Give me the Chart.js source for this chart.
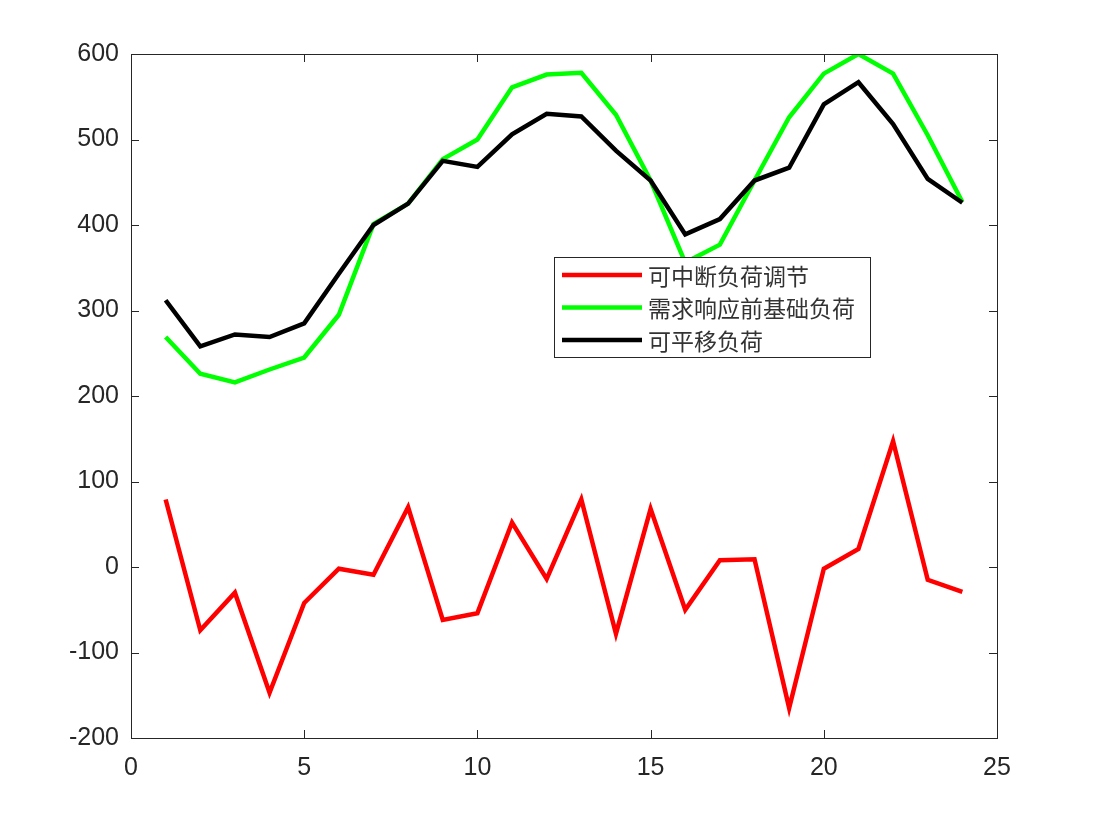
<!DOCTYPE html>
<html>
<head>
<meta charset="utf-8">
<script src="https://cdn.jsdelivr.net/npm/chart.js@4.4.1/dist/chart.umd.min.js"></script>
<style>
  html, body { margin: 0; padding: 0; background: #fff; }
  #wrap { width: 1104px; height: 828px; }
</style>
</head>
<body>
<div id="wrap"><canvas id="chartLoad"></canvas></div>
<script>
const hours = [1, 2, 3, 4, 5, 6, 7, 8, 9, 10, 11, 12, 13, 14, 15, 16, 17, 18, 19, 20, 21, 22, 23, 24];

const interruptible = [79, -74, -30, -147, -42, -2, -9, 70, -62, -54, 52, -14, 79, -78, 68, -50, 8, 9, -165, -2, 21, 147, -15, -29];
const baseLoad = [269, 226, 216, 231, 245, 295, 401, 425, 477, 500, 561, 576, 578, 529, 452, 356, 377, 452, 526, 577, 600, 577, 505, 427];
const shiftable = [312, 258, 272, 269, 285, 343, 400, 425, 475, 468, 506, 530, 527, 487, 452, 389, 407, 452, 467, 541, 567, 518, 454, 426];

const seriesLabels = ['可中断负荷调节', '需求响应前基础负荷', '可平移负荷'];
const seriesColors = ['#ff0000', '#00ff00', '#000000'];

const xTicks = [0, 5, 10, 15, 20, 25];
const yTicks = [-200, -100, 0, 100, 200, 300, 400, 500, 600];

const AXIS_COLOR = '#262626';
const TICK_LEN = 8;

function toPoints(values) {
  return values.map((v, i) => ({ x: hours[i], y: v }));
}

// box round the axes, with inward ticks on all four sides (MATLAB style)
const boxPlugin = {
  id: 'boxPlugin',
  afterDatasetsDraw(chart) {
    const { ctx, chartArea: a, scales } = chart;
    ctx.save();
    ctx.strokeStyle = AXIS_COLOR;
    ctx.lineWidth = 1;
    ctx.strokeRect(a.left + 0.5, a.top + 0.5, a.right - a.left, a.bottom - a.top);
    ctx.beginPath();
    xTicks.forEach((t) => {
      const px = Math.round(scales.x.getPixelForValue(t)) + 0.5;
      ctx.moveTo(px, a.bottom); ctx.lineTo(px, a.bottom - TICK_LEN);
      ctx.moveTo(px, a.top); ctx.lineTo(px, a.top + TICK_LEN);
    });
    yTicks.forEach((t) => {
      const py = Math.round(scales.y.getPixelForValue(t)) + 0.5;
      ctx.moveTo(a.left, py); ctx.lineTo(a.left + TICK_LEN, py);
      ctx.moveTo(a.right, py); ctx.lineTo(a.right - TICK_LEN, py);
    });
    ctx.stroke();
    ctx.restore();
  },
};

// legend box inside the plot, drawn from the dataset labels and colours
const innerLegend = {
  id: 'innerLegend',
  afterDraw(chart) {
    const { ctx } = chart;
    const x0 = 554, y0 = 257, w = 316, h = 100;
    ctx.save();
    ctx.fillStyle = '#fff';
    ctx.fillRect(x0, y0, w, h);
    ctx.strokeStyle = AXIS_COLOR;
    ctx.lineWidth = 1;
    ctx.strokeRect(x0 + 0.5, y0 + 0.5, w, h);
    ctx.font = '23px "Noto Sans CJK SC", sans-serif';
    ctx.textBaseline = 'middle';
    seriesLabels.forEach((label, i) => {
      const y = y0 + 18 + i * 32.5;
      ctx.strokeStyle = seriesColors[i];
      ctx.lineWidth = 4.5;
      ctx.beginPath();
      ctx.moveTo(x0 + 8, y);
      ctx.lineTo(x0 + 88, y);
      ctx.stroke();
      ctx.fillStyle = '#333';
      ctx.fillText(label, x0 + 94, y + 1);
    });
    ctx.restore();
  },
};

new Chart(document.getElementById('chartLoad').getContext('2d'), {
  type: 'line',
  data: {
    datasets: [
      { label: seriesLabels[0], data: toPoints(interruptible), borderColor: seriesColors[0], order: 2 },
      { label: seriesLabels[1], data: toPoints(baseLoad), borderColor: seriesColors[1], order: 1 },
      { label: seriesLabels[2], data: toPoints(shiftable), borderColor: seriesColors[2], order: 0 },
    ],
  },
  options: {
    responsive: true,
    maintainAspectRatio: false,
    animation: false,
    layout: { padding: { top: 54, right: 107, left: 0, bottom: 0 } },
    elements: {
      line: { borderWidth: 4.5, tension: 0, fill: false, borderJoinStyle: 'miter', borderCapStyle: 'butt' },
      point: { radius: 0, hoverRadius: 0 },
    },
    scales: {
      x: {
        type: 'linear',
        min: 0,
        max: 25,
        afterFit: (scale) => { scale.height = 90; },
        afterBuildTicks: (scale) => { scale.ticks = xTicks.map((v) => ({ value: v })); },
        grid: { display: false, drawTicks: false },
        border: { display: false },
        ticks: {
          color: AXIS_COLOR,
          padding: 15,
          font: { family: '"Liberation Sans", Arial, sans-serif', size: 25 },
        },
      },
      y: {
        type: 'linear',
        min: -200,
        max: 600,
        afterFit: (scale) => { scale.width = 131; },
        afterBuildTicks: (scale) => { scale.ticks = yTicks.map((v) => ({ value: v })); },
        grid: { display: false, drawTicks: false },
        border: { display: false },
        ticks: {
          color: AXIS_COLOR,
          padding: 12,
          font: { family: '"Liberation Sans", Arial, sans-serif', size: 25 },
        },
      },
    },
    plugins: {
      legend: { display: false },
      tooltip: { enabled: false },
    },
  },
  plugins: [boxPlugin, innerLegend],
});
</script>
</body>
</html>
